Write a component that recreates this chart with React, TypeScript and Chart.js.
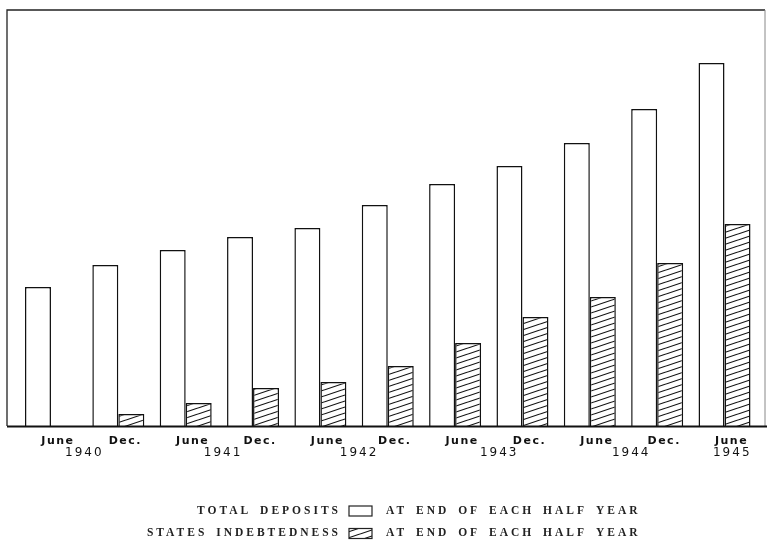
import React, { useEffect, useRef } from 'react';
import { Chart, registerables } from 'chart.js';

Chart.register(...registerables);

// ---- data ----
const MONTHS = ['June', 'Dec.', 'June', 'Dec.', 'June', 'Dec.', 'June', 'Dec.', 'June', 'Dec.', 'June'];
const YEARS = ['1940', '1941', '1942', '1943', '1944', '1945'];
// year labels sit between the half-year categories (category index units)
const YEAR_POS = [0.48, 2.54, 4.56, 6.64, 8.6, 10.1];
// relative heights (chart units, no printed scale)
const TOTAL_DEPOSITS = [139, 161, 176, 189, 198, 221, 242, 260, 283, 317, 363];
const STATES_INDEBTEDNESS: (number | null)[] = [null, 12, 23, 38, 44, 60, 83, 109, 129, 163, 202];
const Y_MAX = 416;
const LEGEND_LEFT = ['TOTAL DEPOSITS', 'STATES INDEBTEDNESS'];
const LEGEND_RIGHT = 'AT END OF EACH HALF YEAR';

function makeHatch(): CanvasPattern | string {
  const c = document.createElement('canvas');
  c.width = 18;
  c.height = 6;
  const g = c.getContext('2d');
  if (!g) return '#999';
  g.fillStyle = '#fff';
  g.fillRect(0, 0, 18, 6);
  g.strokeStyle = '#111';
  g.lineWidth = 1.1;
  for (const dy of [-6, 0, 6]) {
    g.beginPath();
    g.moveTo(-3, 7 + dy);
    g.lineTo(21, -1 + dy);
    g.stroke();
  }
  return g.createPattern(c, 'repeat') || '#999';
}

export default function App() {
  const ref = useRef<HTMLCanvasElement | null>(null);

  useEffect(() => {
    const canvas = ref.current;
    if (!canvas) return;
    const hatch = makeHatch();

    const decor = {
      id: 'decor',
      beforeDraw(chart: any) {
        (chart.ctx as any).letterSpacing = '1.5px';
      },
      afterDraw(chart: any) {
        const ctx = chart.ctx as CanvasRenderingContext2D & { letterSpacing?: string };
        const xs = chart.scales.x;
        const area = chart.chartArea;
        ctx.save();
        // frame
        ctx.strokeStyle = '#222';
        ctx.lineWidth = 1.3;
        ctx.beginPath();
        ctx.moveTo(7, area.bottom);
        ctx.lineTo(7, 10);
        ctx.lineTo(765, 10);
        ctx.stroke();
        ctx.strokeStyle = '#888';
        ctx.lineWidth = 1;
        ctx.beginPath();
        ctx.moveTo(765, 10);
        ctx.lineTo(765, area.bottom);
        ctx.stroke();
        // baseline
        ctx.strokeStyle = '#111';
        ctx.lineWidth = 2;
        ctx.beginPath();
        ctx.moveTo(7, area.bottom + 0.5);
        ctx.lineTo(767, area.bottom + 0.5);
        ctx.stroke();

        // year labels
        ctx.fillStyle = '#111';
        ctx.letterSpacing = '2px';
        ctx.font = '12px "DejaVu Sans", sans-serif';
        ctx.textAlign = 'center';
        ctx.textBaseline = 'middle';
        YEARS.forEach((y, i) => {
          ctx.fillText(y, xs.getPixelForValue(YEAR_POS[i]) + 1, 453);
        });

        // legend
        const rowsY = [511, 533.5];
        ctx.font = 'bold 11.5px "Liberation Serif", serif';
        ctx.letterSpacing = '3px';
        (ctx as any).wordSpacing = '3px';
        ctx.fillStyle = '#222';
        rowsY.forEach((ry, i) => {
          ctx.textAlign = 'right';
          ctx.fillText(LEGEND_LEFT[i], 341, ry);
          ctx.textAlign = 'left';
          ctx.fillText(LEGEND_RIGHT, 386, ry);
          ctx.fillStyle = i === 0 ? '#fff' : (hatch as any);
          ctx.fillRect(349, ry - 5, 23, 10);
          ctx.strokeStyle = '#222';
          ctx.lineWidth = 1.2;
          ctx.strokeRect(349, ry - 5, 23, 10);
          ctx.fillStyle = '#222';
        });
        ctx.restore();
        ctx.letterSpacing = '0px';
        (ctx as any).wordSpacing = '0px';
      },
    };

    const chart = new Chart(canvas, {
      type: 'bar',
      data: {
        labels: MONTHS,
        datasets: [
          {
            label: 'TOTAL DEPOSITS',
            data: TOTAL_DEPOSITS,
            backgroundColor: '#fff',
            borderColor: '#111',
            borderWidth: 1.5,
            borderSkipped: 'bottom',
            categoryPercentage: 0.772,
            barPercentage: 1.0,
          },
          {
            label: 'STATES INDEBTEDNESS',
            data: STATES_INDEBTEDNESS,
            backgroundColor: hatch as any,
            borderColor: '#111',
            borderWidth: 1.5,
            borderSkipped: 'bottom',
            categoryPercentage: 0.772,
            barPercentage: 1.0,
          },
        ],
      },
      options: {
        animation: false,
        responsive: false,
        devicePixelRatio: 1,
        layout: { padding: { left: 17.3, right: 8.8, top: 10, bottom: 0 } },
        plugins: { legend: { display: false }, tooltip: { enabled: false } },
        scales: {
          x: {
            grid: { display: false, drawTicks: false },
            border: { display: false },
            ticks: {
              autoSkip: false,
              maxRotation: 0,
              padding: 9,
              labelOffset: 7,
              color: '#111',
              font: { family: '"DejaVu Sans", sans-serif', size: 11, weight: 'bold' },
            },
            afterFit: (s: any) => {
              s.height = 125;
            },
          },
          y: { display: false, min: 0, max: Y_MAX },
        },
      },
      plugins: [decor],
    } as any);

    return () => chart.destroy();
  }, []);

  return (
    <div style={{ position: 'fixed', left: 0, top: 0, width: 767, height: 551, background: '#fff' }}>
      <canvas ref={ref} width={767} height={551} style={{ display: 'block' }} />
    </div>
  );
}
